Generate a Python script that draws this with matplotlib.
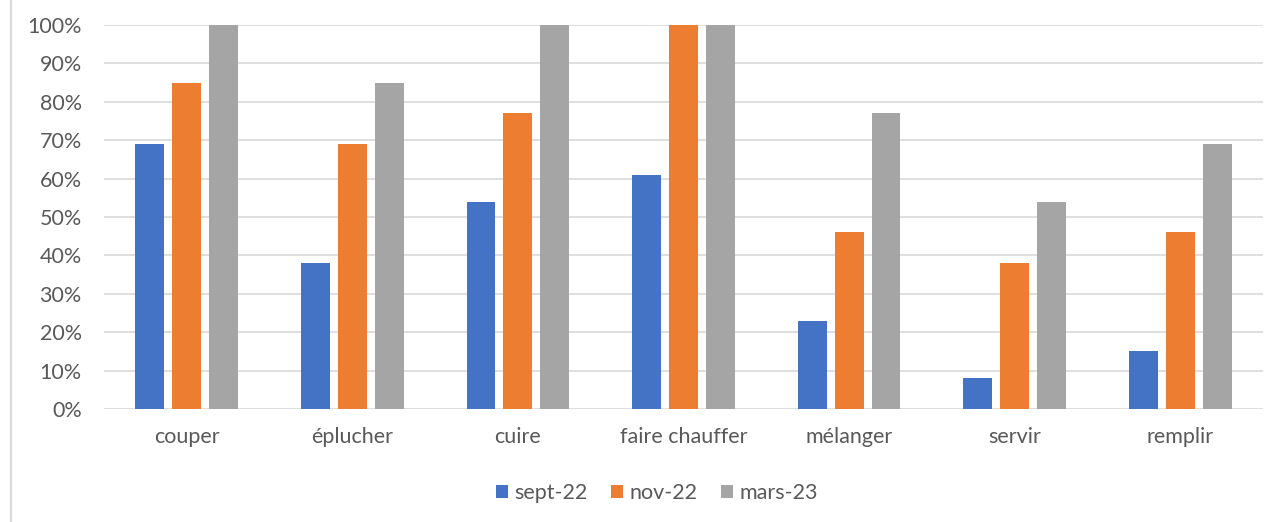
import matplotlib.pyplot as plt
import numpy as np
from matplotlib.lines import Line2D
from matplotlib.ticker import PercentFormatter

categories = ["couper", "éplucher", "cuire", "faire chauffer", "mélanger", "servir", "remplir"]
series = ["sept-22", "nov-22", "mars-23"]
sept_22 = [69, 38, 54, 61, 23, 8, 15]
nov_22 = [85, 69, 77, 100, 46, 38, 46]
mars_23 = [100, 85, 100, 100, 77, 54, 69]
colors = ["#4472C4", "#ED7D31", "#A5A5A5"]

plt.rcParams['font.family'] = ['Lato', 'DejaVu Sans']
txt = "#595959"

fig = plt.figure(figsize=(12.79, 5.22), dpi=100)
ax = fig.add_axes([104 / 1279, 1 - 409 / 522, 1159 / 1279, 384 / 522])

x = np.arange(len(categories))
w = 0.175
step = 0.223
for i, (name, vals) in enumerate(zip(series, [sept_22, nov_22, mars_23])):
    ax.bar(x + (i - 1) * step, vals, width=w, color=colors[i], label=name, zorder=3)

ax.set_xlim(-0.5, len(categories) - 0.5)
ax.set_ylim(0, 100)
ax.set_yticks(np.arange(0, 101, 10))
ax.yaxis.set_major_formatter(PercentFormatter(decimals=0))
ax.set_xticks(x)
ax.set_xticklabels(categories)
ax.grid(axis='y', color='#d9d9d9', linewidth=1.2, zorder=0)
for s in ax.spines.values():
    s.set_visible(False)
ax.tick_params(length=0, colors=txt, labelsize=15.5)
ax.tick_params(axis='y', pad=16)
ax.tick_params(axis='x', pad=13)

# legend under the axis, centred like the Excel one
ax.legend(loc='center', bbox_to_anchor=((657 - 104) / 1159, (409 - 493) / 384), ncol=3, frameon=False,
          fontsize=15.5, handlelength=0.55, handleheight=0.55, handletextpad=0.3, columnspacing=1.1,
          labelcolor=txt)

fig.add_artist(Line2D([11 / 1279, 11 / 1279], [0, 1], transform=fig.transFigure, color='#d9d9d9', linewidth=1.5))

fig.savefig("out.png", dpi=100)
